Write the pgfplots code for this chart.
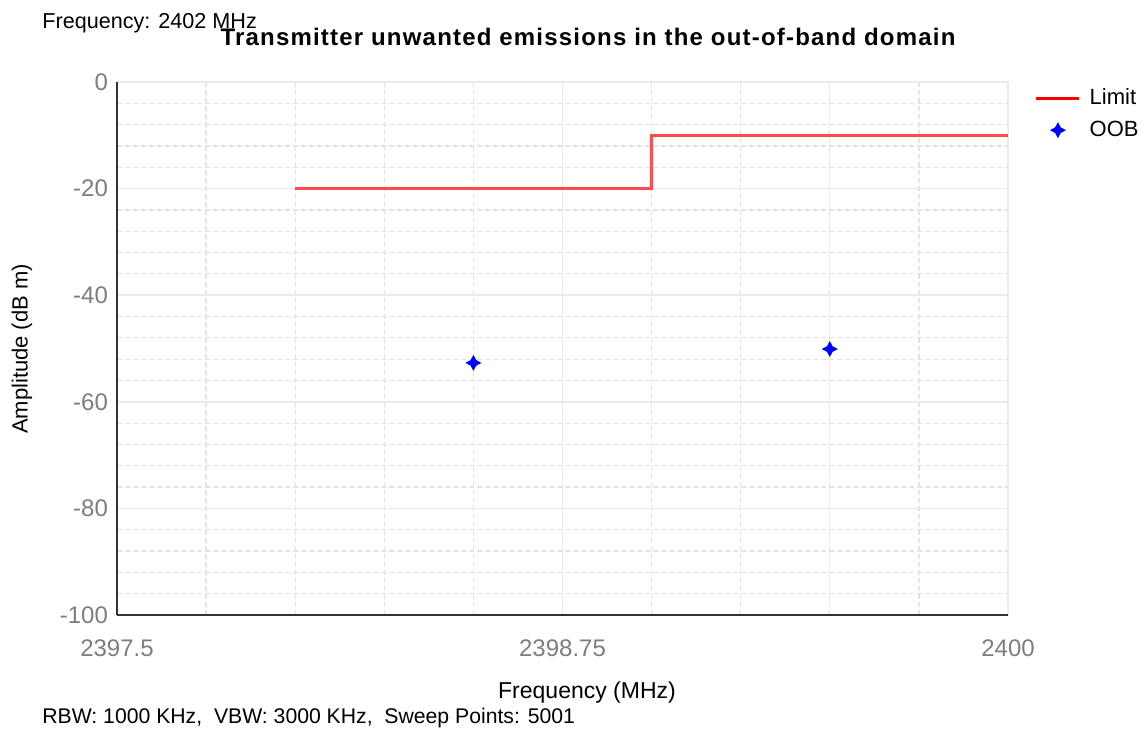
\documentclass[border=0pt]{standalone}
\usepackage{fontspec}
\setmainfont{Liberation Sans}
\newfontfamily\titlefont[LetterSpace=5]{Liberation Sans}
\usepackage{pgfplots}
\pgfplotsset{compat=1.18}
\definecolor{ticklab}{RGB}{125,125,125}
\definecolor{axisdark}{RGB}{50,50,50}
\definecolor{limitred}{RGB}{255,75,75}

% four-pointed star marker
\pgfdeclareplotmark{star4}{%
  \pgfpathmoveto{\pgfpoint{0pt}{\pgfplotmarksize}}%
  \pgfpathlineto{\pgfpoint{0.35\pgfplotmarksize}{0.35\pgfplotmarksize}}%
  \pgfpathlineto{\pgfpoint{\pgfplotmarksize}{0pt}}%
  \pgfpathlineto{\pgfpoint{0.35\pgfplotmarksize}{-0.35\pgfplotmarksize}}%
  \pgfpathlineto{\pgfpoint{0pt}{-\pgfplotmarksize}}%
  \pgfpathlineto{\pgfpoint{-0.35\pgfplotmarksize}{-0.35\pgfplotmarksize}}%
  \pgfpathlineto{\pgfpoint{-\pgfplotmarksize}{0pt}}%
  \pgfpathlineto{\pgfpoint{-0.35\pgfplotmarksize}{0.35\pgfplotmarksize}}%
  \pgfpathclose
  \pgfusepathqfill}

\pgfplotsset{
  limitleg/.style={legend image code/.code={\draw[##1, red] (0pt,0pt) -- (21.5pt,0pt);}},
  oobleg/.style={legend image code/.code={\draw[##1] plot coordinates {(10.75pt,0pt)};}},
}

\begin{document}
\begin{tikzpicture}
\useasboundingbox (0,0) rectangle (573pt,365.5pt);
\clip (0,0) rectangle (573pt,365.5pt);
\begin{axis}[
  at={(58.5pt,58pt)}, anchor=south west,
  width=445.5pt, height=266.5pt, scale only axis,
  xmin=2397.5, xmax=2400, ymin=-100, ymax=0,
  xtick={2397.5,2398.75,2400},
  xticklabels={2397.5,2398.75,2400},
  ytick={-100,-80,-60,-40,-20,0},
  yticklabels={-100,-80,-60,-40,-20,0},
  minor x tick num=4, minor y tick num=4,
  grid=both,
  major grid style={solid, draw=black!8, line width=0.8pt},
  minor grid style={dash pattern=on 2.5pt off 1.5pt, draw=black!11, line width=0.6pt},
  axis lines*=left,
  axis line style={line width=1pt, draw=axisdark},
  tick style={draw=none},
  ticklabel style={font=\fontsize{12}{14}\selectfont, text=ticklab},
  /pgf/number format/assume math mode=true,
  xticklabel style={yshift=-9pt},
  yticklabel style={xshift=-1pt},
  xlabel={Frequency (MHz)},
  xlabel style={at={(axis description cs:0.5275,-0.1463)}, anchor=center, font=\fontsize{11.5}{13}\selectfont},
  ylabel={Amplitude (dB m)},
  ylabel style={at={(axis description cs:-0.1066,0.499)}, anchor=center, rotate=0, font=\fontsize{11}{13}\selectfont},
  legend style={at={(axis description cs:1.03,0.995)}, anchor=north west, draw=none, fill=none,
    font=\fontsize{11}{13}\selectfont, row sep=2.5pt, inner sep=0pt,
    nodes={inner xsep=4.5pt}},
  legend cell align=left,
]
\addplot[limitred, line width=1.3pt, limitleg]
  coordinates {(2398,-20) (2399,-20) (2399,-10) (2400,-10)};
\addplot[only marks, mark=star4, mark size=4pt, blue, oobleg]
  coordinates {(2398.5,-52.7) (2399.5,-50.1)};
\legend{Limit, OOB}
\end{axis}
\begin{scope}[x=0.5pt, y=-0.5pt, shift={(0,365.5pt)}]
  \node[anchor=center, font=\titlefont\bfseries\fontsize{12}{14}\selectfont] at (588,37)
    {Transmitter unwanted emissions in the out-of-band domain};
  \node[anchor=west, inner sep=0pt, font=\fontsize{10.8}{13}\selectfont] at (42,23)
    {Frequency: 2402 MHz};
  \node[anchor=west, inner sep=0pt, font=\fontsize{10.6}{13}\selectfont] at (42,718)
    {RBW: 1000 KHz,\ \ VBW: 3000 KHz,\ \ Sweep Points: 5001};
\end{scope}
\end{tikzpicture}
\end{document}
